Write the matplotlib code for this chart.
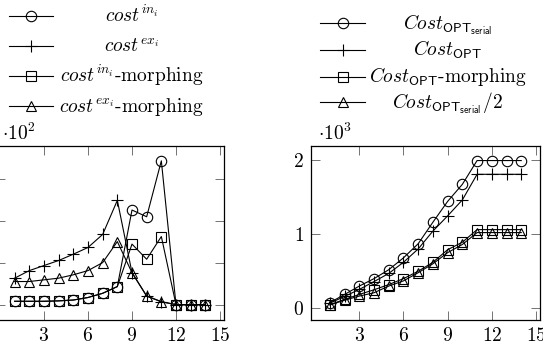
import matplotlib
matplotlib.use('Agg')
import matplotlib.pyplot as plt
from matplotlib.lines import Line2D

# fonts: computer modern look
plt.rcParams['mathtext.fontset'] = 'cm'
plt.rcParams['font.family'] = 'serif'
plt.rcParams['font.serif'] = ['cmr10']
plt.rcParams['axes.formatter.use_mathtext'] = True

# data block
steps = list(range(1, 15))

# left panel (values in real units, axis shows x10^2)
cost_in = [10, 10, 10, 11, 13, 19, 29, 45, 227, 211, 344, 2, 2, 2]
cost_ex = [65, 83, 95, 107, 122, 138, 169, 250, 78, 22, 9, 2, 2, 2]
cost_in_morph = [10, 10, 10, 11, 13, 19, 29, 45, 146, 110, 164, 2, 2, 2]
cost_ex_morph = [57, 57, 61, 65, 73, 83, 102, 152, 78, 23, 9, 2, 2, 2]
left_labels = [r'$cost^{in_i}$', r'$cost^{ex_i}$',
               r'$cost^{in_i}\text{-morphing}$', r'$cost^{ex_i}\text{-morphing}$']

# right panel (values in real units, axis shows x10^3)
opt_serial = [77, 187, 300, 400, 520, 680, 870, 1160, 1440, 1670, 1990, 1990, 1990, 1990]
opt = [70, 160, 255, 360, 470, 620, 800, 1040, 1245, 1460, 1805, 1805, 1805, 1805]
opt_morph = [50, 120, 187, 250, 320, 400, 500, 620, 790, 890, 1060, 1060, 1060, 1060]
opt_serial_half = [45, 110, 165, 210, 300, 370, 480, 600, 750, 860, 1020, 1020, 1020, 1020]
right_labels = [r'$Cost_{\mathsf{OPT}_{\mathsf{serial}}}$', r'$Cost_{\mathsf{OPT}}$',
                r'$Cost_{\mathsf{OPT}}\text{-morphing}$', r'$Cost_{\mathsf{OPT}_{\mathsf{serial}}}/2$']

xticks = [3, 6, 9, 12, 15]
left_yticks = [0, 1, 2, 3]
right_yticks = [0, 1, 2]

# marker styles: circle, plus, square, triangle
marks = [('o', 7.5), ('+', 8), ('s', 7), ('^', 6.5)]

W, H = 543, 346
FS = 14


def fx(px):
    return px / W


def fy(py):
    return 1 - py / H


def styleAxes(ax, xlim, ylim, yticks, offset_text, show_ylabels):
    ax.set_xlim(*xlim)
    ax.set_ylim(*ylim)
    ax.set_xticks(xticks)
    ax.set_yticks(yticks)
    ax.tick_params(direction='in', top=True, right=True, length=6.5,
                   width=0.7, color='0.45', labelsize=FS, pad=5,
                   labelleft=show_ylabels)
    for sp in ax.spines.values():
        sp.set_linewidth(0.9)
    ax.text(0.03, 1.012, offset_text, transform=ax.transAxes,
            ha='left', va='bottom', fontsize=FS)


def drawSeries(ax, series, scale):
    for vals, (mk, ms) in zip(series, marks):
        ax.plot(steps, [v / scale for v in vals], color='black', lw=0.8,
                marker=mk, ms=ms, mfc='none', mec='black', mew=0.8)


def drawLegend(fig, labels, x0, x1, xtext, rows):
    for lab, (mk, ms), y in zip(labels, marks, rows):
        fig.add_artist(Line2D([fx(x0), fx((x0 + x1) / 2), fx(x1)], [fy(y)] * 3,
                              transform=fig.transFigure, color='black', lw=0.8,
                              marker=mk, ms=ms, mfc='none', mec='black', mew=0.8,
                              markevery=[1]))
        fig.text(fx(xtext), fy(y + 6), lab, ha='center', va='baseline', fontsize=FS)


def main():
    fig = plt.figure(figsize=(W / 100, H / 100), dpi=100)
    ax1 = fig.add_axes([fx(-4.4), fy(320), fx(228.8), 174.3 / H])
    ax2 = fig.add_axes([fx(310.7), fy(320), fx(229.7), 174.3 / H])

    # left y labels sit outside the canvas in the original, so they stay hidden
    drawSeries(ax1, [cost_in, cost_ex, cost_in_morph, cost_ex_morph], 100)
    styleAxes(ax1, (-0.3, 15.3), (-0.345, 3.80), left_yticks, r'$\cdot 10^2$', False)

    drawSeries(ax2, [opt_serial, opt, opt_morph, opt_serial_half], 1000)
    styleAxes(ax2, (-0.3, 15.3), (-0.157, 2.19), right_yticks, r'$\cdot 10^3$', True)

    drawLegend(fig, left_labels, 9.3, 53.3, 131.7, [15.5, 45.5, 76, 106])
    drawLegend(fig, right_labels, 320, 365, 447.5, [23, 50, 76.5, 102])

    fig.savefig('out.png', dpi=100)


if __name__ == '__main__':
    main()
